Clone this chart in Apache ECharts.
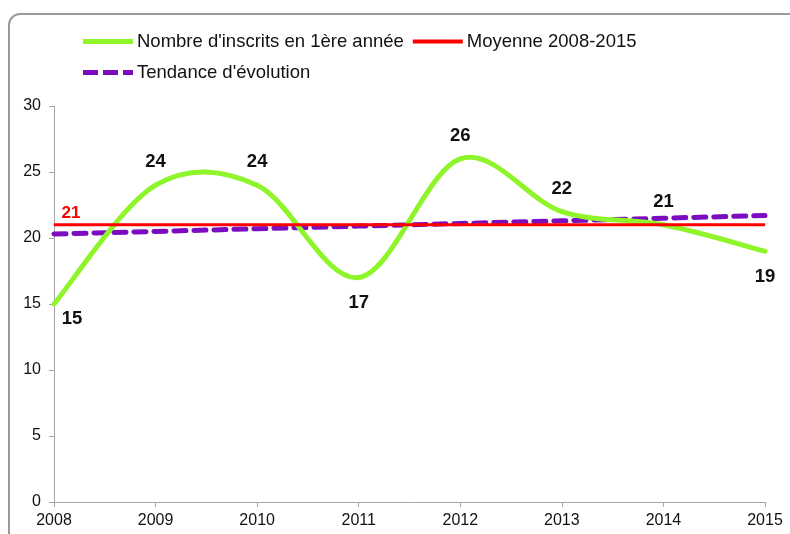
<!DOCTYPE html>
<html>
<head>
	<meta charset="utf-8">
	<title>Inscrits en 1ère année</title>
	<script src="https://cdn.jsdelivr.net/npm/echarts@6/dist/echarts.min.js"></script>
	<style>
		html, body { margin:0; padding:0; background:#fff; }
		#main { width:790px; height:534px; }
	</style>
</head>
<body>
<div id="main"></div>
<script type="text/javascript">
    // données
    var annees = ['2008','2009','2010','2011','2012','2013','2014','2015'];
    var inscrits = [15, 24, 24, 17, 26, 22, 21, 19];
    var moyenne = [21, 21, 21, 21, 21, 21, 21, 21];
    var tendance = [20.3, 20.5, 20.7, 20.9, 21.1, 21.3, 21.5, 21.7];
    var yTicks = [0, 5, 10, 15, 20, 25, 30];

    // position des étiquettes : dessus / dessous
    var posLabel = ['bottom','top','top','bottom','top','top','top','bottom'];
    var distLabel = [5, 13, 13, 15, 13, 13, 13, 16];
    var offLabel = [[18,0],[0,0],[0,0],[0,0],[0,0],[0,0],[0,0],[0,0]];

    var font = 'Liberation Sans, Arial, sans-serif';
    var vert = '#8ef52a', rouge = '#ff0000', violet = '#7a0dbf';

    // courbe lissée façon Excel (bezier, tangentes type Catmull-Rom)
    function courbe(params, api) {
        var i = params.dataIndex, n = inscrits.length;
        if (i >= n - 1) return;
        function pt(j) {
            j = Math.max(0, Math.min(n - 1, j));
            return api.coord([j, inscrits[j]]);
        }
        var p0 = pt(i - 1), p1 = pt(i), p2 = pt(i + 1), p3 = pt(i + 2);
        var t = 1 / 6;
        return {
            type: 'bezierCurve',
            shape: {
                x1: p1[0], y1: p1[1], x2: p2[0], y2: p2[1],
                cpx1: p1[0] + (p2[0] - p0[0]) * t, cpy1: p1[1] + (p2[1] - p0[1]) * t,
                cpx2: p2[0] - (p3[0] - p1[0]) * t, cpy2: p2[1] - (p3[1] - p1[1]) * t
            },
            style: { stroke: vert, lineWidth: 5, fill: null, lineCap: 'round' }
        };
    }

    var myChart = echarts.init(document.getElementById('main'));
    myChart.setOption({
        animation: false,
        textStyle: { fontFamily: font },
        graphic: [{
            type: 'rect',
            shape: { x: 9, y: 14, width: 800, height: 560, r: 11 },
            style: { fill: 'none', stroke: '#9a9a9a', lineWidth: 2 },
            z: -1
        }],
        legend: [{
            left: 83, top: 32, padding: 0,
            itemWidth: 50, itemHeight: 18, itemGap: 9,
            textStyle: { fontSize: 18.5, color: '#111', padding: [0,0,0,-1] },
            data: [
                { name: "Nombre d'inscrits en 1ère année", icon: 'path://M0,0h50v5h-50z' },
                { name: 'Moyenne 2008-2015', icon: 'path://M0,0h50v4h-50z' }
            ]
        }, {
            left: 83, top: 63, padding: 0,
            itemWidth: 50, itemHeight: 18,
            textStyle: { fontSize: 18.5, color: '#111', padding: [0,0,0,-1] },
            data: [
                { name: "Tendance d'évolution", icon: 'path://M0,0h15v5h-15zM20,0h15v5h-15zM40,0h10v5h-10z' }
            ]
        }],
        grid: { left: 54, right: 25, top: 106, bottom: 32 },
        xAxis: {
            type: 'category',
            boundaryGap: false,
            data: annees,
            axisLine: { lineStyle: { color: '#a6a6a6', width: 1 } },
            axisTick: { show: true, length: 5, lineStyle: { color: '#a6a6a6' } },
            axisLabel: { fontSize: 16, color: '#111', margin: 11 }
        },
        yAxis: {
            type: 'value',
            min: yTicks[0], max: yTicks[yTicks.length - 1], interval: 5,
            axisLine: { show: true, lineStyle: { color: '#a6a6a6', width: 1 } },
            axisTick: { show: true, length: 5, lineStyle: { color: '#a6a6a6' } },
            splitLine: { show: false },
            axisLabel: { fontSize: 16, color: '#111', margin: 13 }
        },
        series: [{
            name: "Nombre d'inscrits en 1ère année",
            type: 'custom',
            renderItem: courbe,
            z: 3,
            itemStyle: { color: vert },
            encode: { x: 0, y: 1 },
            data: inscrits.map(function (v, i) { return [i, v]; })
        }, {
            // étiquettes de la courbe verte
            name: 'etiquettes',
            type: 'line',
            symbol: 'circle',
            symbolSize: 1,
            z: 3,
            lineStyle: { width: 0, opacity: 0 },
            itemStyle: { color: vert },
            data: inscrits.map(function (v, i) {
                return {
                    value: v,
                    label: {
                        show: true,
                        position: posLabel[i],
                        distance: distLabel[i],
                        offset: offLabel[i],
                        fontSize: 18.5, fontWeight: 'bold', color: '#111'
                    }
                };
            })
        }, {
            name: 'Moyenne 2008-2015',
            type: 'line',
            symbol: 'circle',
            symbolSize: 1,
            z: 4,
            lineStyle: { color: rouge, width: 3 },
            itemStyle: { color: rouge },
            data: moyenne.map(function (v, i) {
                return {
                    value: v,
                    label: {
                        show: i === 0,
                        position: 'top',
                        distance: 2,
                        offset: [17, 0],
                        fontSize: 17, fontWeight: 'bold', color: rouge
                    }
                };
            })
        }, {
            name: "Tendance d'évolution",
            type: 'line',
            symbol: 'none',
            z: 2,
            lineStyle: { color: violet, width: 5, type: [12, 8], cap: 'round' },
            itemStyle: { color: violet },
            data: tendance
        }]
    });
</script>
</body>
</html>
